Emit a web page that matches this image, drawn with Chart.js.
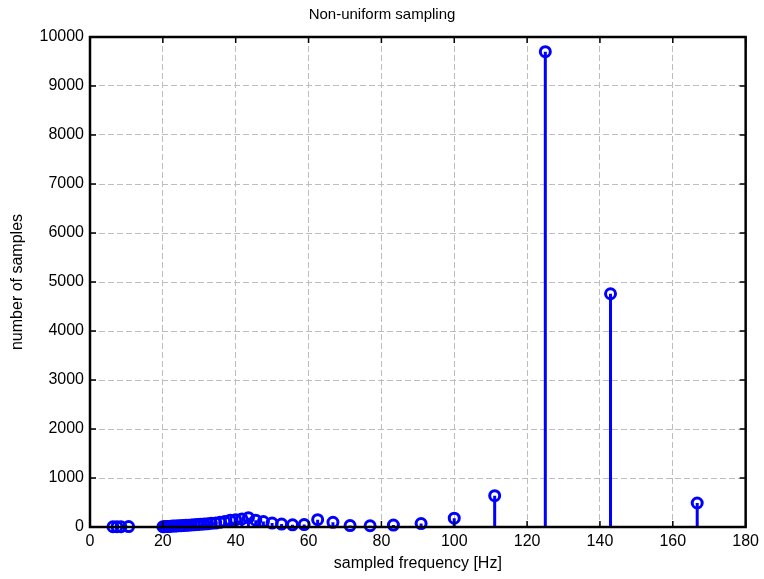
<!DOCTYPE html>
<html>
<head>
<meta charset="utf-8">
<title>Non-uniform sampling</title>
<script src="https://cdn.jsdelivr.net/npm/chart.js@4.4.1/dist/chart.umd.min.js"></script>
<style>
	html, body { margin: 0; padding: 0; background: #fff; }
	#wrap { width: 764px; height: 579px; }
</style>
</head>
<body>
<div id="wrap"><canvas id="stem-chart" width="764" height="579"></canvas></div>
<script>
	// sampled frequencies [Hz] and how many samples fell on each one
	var freqHz = [
		6.3, 7.4, 8.5, 10.6,
		20.0, 20.4, 20.8, 21.3, 21.7, 22.2, 22.7, 23.3, 23.8, 24.4,
		25.0, 25.6, 26.3, 27.0, 27.8, 28.6, 29.4, 30.3, 31.3, 32.3,
		33.3, 34.5, 35.7, 37.0, 38.5, 40.0, 41.7, 43.5, 45.5, 47.6,
		50.0, 52.6, 55.6, 58.8, 62.5, 66.7, 71.4, 76.9, 83.3, 90.9,
		100.0, 111.1, 125.0, 142.9, 166.7
	];
	var sampleCount = [
		5, 5, 5, 8,
		5, 5, 8, 10, 12, 15, 18, 20, 22, 25,
		28, 30, 35, 38, 42, 45, 50, 55, 60, 65,
		75, 80, 95, 110, 140, 150, 165, 190, 140, 110,
		80, 60, 45, 50, 150, 95, 30, 25, 40, 70,
		180, 640, 9700, 4760, 490
	];

	var xTicks = [ 0, 20, 40, 60, 80, 100, 120, 140, 160, 180 ];
	var yTicks = [ 0, 1000, 2000, 3000, 4000, 5000, 6000, 7000, 8000, 9000, 10000 ];

	var chartTitle = 'Non-uniform sampling';
	var fontFamily = "'Liberation Sans', Arial, Helvetica, sans-serif";
	var stemBlue = '#0000ff';

	// markers at the top of each stem
	var markers = freqHz.map( function( f, i ) {
		return { x: f, y: sampleCount[i] };
	} );

	// stems as one line broken by gaps: (f,0) -> (f,n) -> gap
	var stems = [];
	freqHz.forEach( function( f, i ) {
		stems.push( { x: f, y: 0 } );
		stems.push( { x: f, y: sampleCount[i] } );
		stems.push( { x: f, y: null } );
	} );

	/**
	 * Box around the axes with inward ticks on all four sides,
	 * plus the title centred on the whole figure.
	 */
	var boxFrame = {
		id: 'boxFrame',
		afterDatasetsDraw: function( chart ) {
			var ctx = chart.ctx;
			var area = chart.chartArea;
			var xs = chart.scales.x;
			var ys = chart.scales.y;
			var len = 6;

			ctx.save();
			ctx.strokeStyle = '#000';
			ctx.lineWidth = 1.5;
			ctx.beginPath();

			xTicks.forEach( function( v ) {
				var px = xs.getPixelForValue( v );
				ctx.moveTo( px, area.bottom );
				ctx.lineTo( px, area.bottom - len );
				ctx.moveTo( px, area.top );
				ctx.lineTo( px, area.top + len );
			} );

			yTicks.forEach( function( v ) {
				var py = ys.getPixelForValue( v );
				ctx.moveTo( area.left, py );
				ctx.lineTo( area.left + len, py );
				ctx.moveTo( area.right, py );
				ctx.lineTo( area.right - len, py );
			} );
			ctx.stroke();

			ctx.lineWidth = 2.5;
			ctx.strokeRect( area.left, area.top, area.right - area.left, area.bottom - area.top );

			// title
			ctx.fillStyle = '#000';
			ctx.font = '15px ' + fontFamily;
			ctx.textAlign = 'center';
			ctx.textBaseline = 'middle';
			ctx.fillText( chartTitle, chart.width / 2, 15 );
			ctx.restore();
		}
	};

	// plain numbers on the axes, no thousands separator
	function plainTick( value ) {
		return String( value );
	}

	var config = {
		type: 'scatter',
		data: {
			datasets: [
				{
					type: 'line',
					label: 'stems',
					data: stems,
					borderColor: stemBlue,
					borderWidth: 3,
					pointRadius: 0,
					spanGaps: false,
					fill: false,
					order: 2
				},
				{
					label: 'samples',
					data: markers,
					pointStyle: 'circle',
					pointRadius: 5,
					pointBorderWidth: 3,
					pointBorderColor: stemBlue,
					pointBackgroundColor: 'rgba(0,0,0,0)',
					order: 1
				}
			]
		},
		options: {
			responsive: false,
			animation: false,
			events: [],
			clip: false,
			layout: {
				padding: { top: 37, right: 16, bottom: 0, left: 0 }
			},
			plugins: {
				legend: { display: false },
				tooltip: { enabled: false },
				title: { display: false }
			},
			scales: {
				x: {
					type: 'linear',
					min: 0,
					max: 180,
					afterBuildTicks: function( scale ) {
						scale.ticks = xTicks.map( function( v ) { return { value: v }; } );
					},
					afterFit: function( scale ) {
						scale.height = 52;
					},
					ticks: {
						color: '#000',
						padding: 5,
						maxRotation: 0,
						font: { family: fontFamily, size: 16 },
						callback: plainTick
					},
					grid: {
						color: '#bdbdbd',
						lineWidth: 1,
						drawTicks: false
					},
					border: { display: false, dash: [ 6, 3 ] },
					title: {
						display: true,
						text: 'sampled frequency [Hz]',
						color: '#000',
						font: { family: fontFamily, size: 16 },
						padding: { top: 0, bottom: 6 }
					}
				},
				y: {
					type: 'linear',
					min: 0,
					max: 10000,
					afterBuildTicks: function( scale ) {
						scale.ticks = yTicks.map( function( v ) { return { value: v }; } );
					},
					afterFit: function( scale ) {
						scale.width = 90;
					},
					ticks: {
						color: '#000',
						padding: 6,
						font: { family: fontFamily, size: 16 },
						callback: plainTick
					},
					grid: {
						color: '#bdbdbd',
						lineWidth: 1,
						drawTicks: false
					},
					border: { display: false, dash: [ 6, 3 ] },
					title: {
						display: true,
						text: 'number of samples',
						color: '#000',
						font: { family: fontFamily, size: 16 },
						padding: { top: 8, bottom: 4 }
					}
				}
			}
		},
		plugins: [ boxFrame ]
	};

	window.stemChart = new Chart( document.getElementById( 'stem-chart' ).getContext( '2d' ), config );
</script>
</body>
</html>
